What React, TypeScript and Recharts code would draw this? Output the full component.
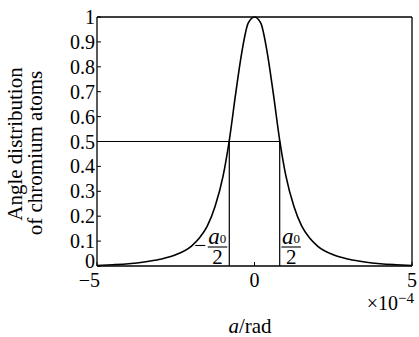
import React from 'react';
import { LineChart, Line, XAxis, YAxis, ReferenceLine } from 'recharts';

// Angle (×10⁻⁴ rad) and the normalized angular distribution of chromium atoms
const angle = [
  -5, -4.5, -4, -3.5, -3, -2.5, -2, -1.75, -1.5, -1.25, -1, -0.8, -0.6, -0.4, -0.2,
  0,
  0.2, 0.4, 0.6, 0.8, 1, 1.25, 1.5, 1.75, 2, 2.5, 3, 3.5, 4, 4.5, 5,
];
const distribution = [
  0.002, 0.005, 0.009, 0.016, 0.027, 0.045, 0.08, 0.112, 0.16, 0.24, 0.36, 0.505, 0.69, 0.86, 0.975,
  1,
  0.975, 0.86, 0.69, 0.505, 0.36, 0.24, 0.16, 0.112, 0.08, 0.045, 0.027, 0.016, 0.009, 0.005, 0.002,
];

const xTicks = [-5, 0, 5];
const xTickLabels = ['\u22125', '0', '5'];
const yTicks = [0, 0.1, 0.2, 0.3, 0.4, 0.5, 0.6, 0.7, 0.8, 0.9, 1];
const yTickLabels = ['0', '0.1', '0.2', '0.3', '0.4', '0.5', '0.6', '0.7', '0.8', '0.9', '1'];

const halfLevel = 0.5;
const halfWidth = 0.8;

const yTitleLines = ['Angle distribution', 'of chromium atoms'];
const xTitleItalic = 'a';
const xTitleRest = '/rad';
const xScaleBase = '\u00d710';
const xScaleExp = '\u22124';

const data = angle.map((x, i) => ({ x, y: distribution[i] }));

const FONT = 'Liberation Serif';
const INK = '#000';

const YTick = (props: any) => {
  const { x, y, payload } = props;
  const idx = yTicks.indexOf(payload.value);
  const label = idx >= 0 ? yTickLabels[idx] : String(payload.value);
  const shift = payload.value === 0 ? -5 : 0;
  return (
    <text x={x} y={y + shift} dy="0.35em" textAnchor="end" fontFamily={FONT} fontSize={20} fill={INK}>
      {label}
    </text>
  );
};

const XTick = (props: any) => {
  const { x, y, payload } = props;
  const idx = xTicks.indexOf(payload.value);
  const label = idx >= 0 ? xTickLabels[idx] : String(payload.value);
  const isNeg = payload.value < 0;
  return (
    <text
      x={isNeg ? x + 3 : x}
      y={y + 21}
      textAnchor={isNeg ? 'end' : 'middle'}
      fontFamily={FONT}
      fontSize={20}
      fill={INK}
    >
      {label}
    </text>
  );
};

const EmptyTick = () => <g />;

const YTitle = () => (
  <g fontFamily={FONT} fontSize={21} fill={INK}>
    <text x={22} y={144} transform="rotate(-90 22 144)" textAnchor="middle">
      {yTitleLines[0]}
    </text>
    <text x={42} y={153} transform="rotate(-90 42 153)" textAnchor="middle">
      {yTitleLines[1]}
    </text>
  </g>
);

const XTitle = () => (
  <g fontFamily={FONT} fill={INK}>
    <text x={414} y={310} textAnchor="end" fontSize={20}>
      {xScaleBase}
      <tspan fontSize={15} dy={-7}>
        {xScaleExp}
      </tspan>
    </text>
    <text x={250} y={333} textAnchor="middle" fontSize={21}>
      <tspan fontStyle="italic">{xTitleItalic}</tspan>
      {xTitleRest}
    </text>
  </g>
);

// a0/2 fraction drawn beside a vertical half-width line
const fraction = (side: 'left' | 'right') => (props: any) => {
  const vb = props.viewBox || {};
  const lx = vb.x ?? 0;
  const bottom = Math.max(vb.y ?? 0, (vb.y ?? 0) + (vb.height ?? 0));
  const x0 = side === 'left' ? lx - 21.5 : lx + 1.7;
  const x1 = x0 + 19.5;
  const cx = (x0 + x1) / 2;
  return (
    <g fontFamily={FONT} fill={INK}>
      {side === 'left' && (
        <line x1={lx - 34} x2={lx - 24} y1={bottom - 20.5} y2={bottom - 20.5} stroke={INK} strokeWidth={1.1} />
      )}
      <text x={x0 + 0.5} y={bottom - 22} fontSize={23}>
        <tspan fontStyle="italic">a</tspan>
        <tspan fontSize={13} dy={-1}>0</tspan>
      </text>
      <line x1={x0} x2={x1} y1={bottom - 19} y2={bottom - 19} stroke={INK} strokeWidth={1.1} />
      <text x={cx} y={bottom - 2.5} textAnchor="middle" fontSize={21}>
        2
      </text>
    </g>
  );
};

export default function App() {
  return (
    <div style={{ position: 'absolute', left: 0, top: 0, width: 419, height: 337, background: '#fff' }}>
      <LineChart width={419} height={337} data={data} margin={{ top: 16, right: 6, bottom: 41, left: 37 }}>
        <XAxis
          dataKey="x"
          type="number"
          domain={[-5, 5]}
          ticks={xTicks}
          interval={0}
          allowDataOverflow
          height={30}
          tickSize={-4}
          tickMargin={4}
          tick={<XTick />}
          axisLine={{ stroke: INK, strokeWidth: 1.3 }}
          tickLine={{ stroke: INK, strokeWidth: 1 }}
          label={<XTitle />}
        />
        <XAxis
          xAxisId="top"
          orientation="top"
          dataKey="x"
          type="number"
          domain={[-5, 5]}
          ticks={xTicks}
          height={1}
          tickSize={0}
          tick={<EmptyTick />}
          tickLine={false}
          axisLine={{ stroke: INK, strokeWidth: 1.3 }}
        />
        <YAxis
          type="number"
          domain={[0, 1]}
          ticks={yTicks}
          interval={0}
          width={60}
          tickSize={-4}
          tickMargin={6}
          tick={<YTick />}
          axisLine={{ stroke: INK, strokeWidth: 1.3 }}
          tickLine={{ stroke: INK, strokeWidth: 1 }}
          label={<YTitle />}
        />
        <YAxis
          yAxisId="r"
          orientation="right"
          type="number"
          domain={[0, 1]}
          ticks={yTicks}
          interval={0}
          width={1}
          tickSize={-4}
          tickMargin={0}
          tick={<EmptyTick />}
          axisLine={{ stroke: INK, strokeWidth: 1.3 }}
          tickLine={{ stroke: INK, strokeWidth: 1 }}
        />
        <ReferenceLine
          segment={[
            { x: -5, y: halfLevel },
            { x: halfWidth, y: halfLevel },
          ]}
          stroke={INK}
          strokeWidth={1.2}
          ifOverflow="visible"
        />
        <ReferenceLine
          segment={[
            { x: -halfWidth, y: 0 },
            { x: -halfWidth, y: halfLevel },
          ]}
          stroke={INK}
          strokeWidth={1.2}
          label={fraction('left')}
        />
        <ReferenceLine
          segment={[
            { x: halfWidth, y: 0 },
            { x: halfWidth, y: halfLevel },
          ]}
          stroke={INK}
          strokeWidth={1.2}
          label={fraction('right')}
        />
        <Line
          type="monotone"
          dataKey="y"
          stroke={INK}
          strokeWidth={1.6}
          dot={false}
          isAnimationActive={false}
        />
      </LineChart>
    </div>
  );
}
